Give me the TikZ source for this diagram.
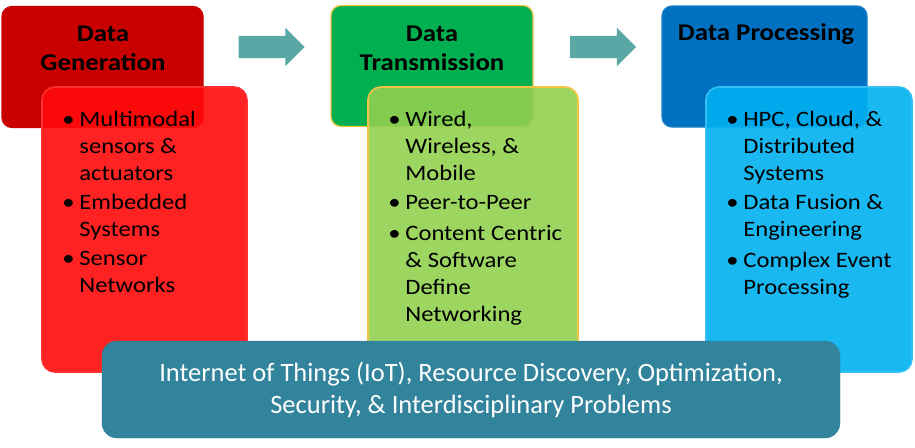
\documentclass[tikz,border=0pt]{standalone}
\usepackage{fontspec}
\setmainfont{Carlito}[FakeStretch=1.12]
\newfontfamily\basefont{Carlito}
\usetikzlibrary{positioning,shapes.arrows}
\definecolor{genred}{HTML}{C80000}
\definecolor{genlight}{HTML}{FF0A0A}
\definecolor{transgreen}{HTML}{00B050}
\definecolor{translight}{HTML}{92D050}
\definecolor{gold}{HTML}{F5C542}
\definecolor{procblue}{HTML}{0070C0}
\definecolor{proclight}{HTML}{00B0F0}
\definecolor{iotteal}{HTML}{31849B}
\definecolor{flowteal}{HTML}{59A8A6}

\begin{document}
\begin{tikzpicture}[x=1pt, y=-1pt,
  head/.style={rounded corners=10pt, line width=1.2pt, minimum width=#1, minimum height=121pt, inner sep=0},
  body/.style={rounded corners=13pt, line width=1.6pt, fill opacity=0.9, minimum height=285pt, inner sep=0},
  title/.style={font=\fontsize{24}{29}\selectfont\bfseries, align=center, inner sep=0},
  blist/.style={font=\fontsize{22}{27}\selectfont, inner sep=0, anchor=north west},
  flow/.style={single arrow, fill=flowteal, draw=none, minimum height=66pt, single arrow head extend=8pt, single arrow head indent=0pt, inner xsep=0pt, inner ysep=11pt}]
\useasboundingbox (0,0) rectangle (915,447);
% header boxes
\node[head=201pt, fill=genred, draw=genred] (genhead) at (102.5,67) {};
\node[head=202pt, fill=transgreen, draw=gold] (transhead) at (432,66) {};
\node[head=205pt, fill=procblue, draw=procblue!90!white] (prochead) at (764.5,66.5) {};
% flow arrows
\node[flow] (flowa) at (266,47) {};
\node[flow] (flowb) at (597.5,47) {};
% body boxes
\node[body, minimum width=205pt, fill=genlight, draw=genlight!85!white] (genbody) at (144.5,229.5) {};
\node[body, minimum width=210pt, fill=translight, draw=gold] (transbody) at (473,229.5) {};
\node[body, minimum width=206pt, fill=proclight, draw=proclight!80!white] (procbody) at (809,229.5) {};
% titles
\node[title] (gentitle) at (103,48.5) {Data\\Generation};
\node[title] (transtitle) at (432,48.5) {Data\\Transmission};
\node[title] (proctitle) at (766,34) {Data Processing};
% bullet lists
\node[blist, below right=21pt and 21pt of genbody.north west] (genlist) {\begin{tabular}{@{}p{17pt}@{}l@{}}
\textbullet & Multimodal\\ & sensors \&\\ & actuators\\[2pt]
\textbullet & Embedded\\ & Systems\\[2pt]
\textbullet & Sensor\\ & Networks
\end{tabular}};
\node[blist, below right=21pt and 21pt of transbody.north west] (translist) {\begin{tabular}{@{}p{17pt}@{}l@{}}
\textbullet & Wired,\\ & Wireless, \&\\ & Mobile\\[2pt]
\textbullet & Peer-to-Peer\\[4pt]
\textbullet & Content Centric\\ & \& Software\\ & Define\\ & Networking
\end{tabular}};
\node[blist, below right=21pt and 21pt of procbody.north west] (proclist) {\begin{tabular}{@{}p{17pt}@{}l@{}}
\textbullet & HPC, Cloud, \&\\ & Distributed\\ & Systems\\[2pt]
\textbullet & Data Fusion \&\\ & Engineering\\[4pt]
\textbullet & Complex Event\\ & Processing
\end{tabular}};
% common ground
\node[rounded corners=15pt, fill=iotteal, draw=iotteal, minimum width=738pt, minimum height=97pt, text=white, align=center, font=\basefont\fontsize{26.5}{32}\selectfont] (iot) at (471,389.5) {Internet of Things (IoT), Resource Discovery, Optimization,\\Security, \& Interdisciplinary Problems};
\end{tikzpicture}
\end{document}
